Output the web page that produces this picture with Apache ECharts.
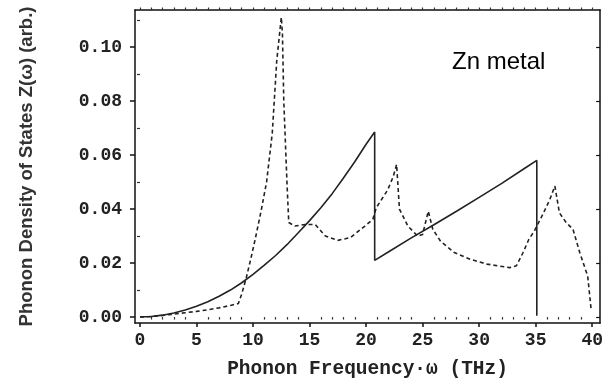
<!DOCTYPE html>
<html>
<head>
<meta charset="utf-8">
<script src="https://cdn.jsdelivr.net/npm/echarts@6/dist/echarts.min.js"></script>
<style>html,body{margin:0;padding:0;background:#fff}#c{width:606px;height:384px}</style>
</head>
<body>
<div id="c"></div>
<script>
// Debye-like model (solid)
var solidX = [0,1,2,3,4,5,6,7,8,9,10,11,12,13,14,15,16,17,18,19,20,20.76,20.76,22,24,26,28,30,32,34,35.1,35.1];
var solidY = [0,0.0002,0.0007,0.0015,0.0026,0.0040,0.0057,0.0077,0.0100,0.0127,0.0158,0.0192,0.0228,0.0268,0.0312,0.0357,0.0405,0.0457,0.0515,0.0575,0.0640,0.0685,0.0210,0.0242,0.0293,0.0342,0.0392,0.0443,0.0495,0.0550,0.0580,0.0005];
// calculated DOS (dashed)
var dashX = [0,1,2,3,4,5,6,7,8,8.7,9.0,9.4,9.8,10.2,10.7,11.2,11.7,12.1,12.5,12.6,12.72,13.0,13.16,13.7,14.6,15.5,16.4,17.5,18.6,19.9,20.6,20.9,21.9,22.4,22.7,22.95,23.7,24.56,25.0,25.5,25.9,26.6,27.8,29.2,30.7,32.7,33.3,33.9,34.4,34.9,35.7,36.25,36.7,37.1,37.7,38.3,38.9,39.6,39.9];
var dashY = [0,0.0002,0.0006,0.0011,0.0016,0.0021,0.0027,0.0034,0.0043,0.0050,0.0085,0.0145,0.0215,0.0290,0.0390,0.0500,0.0680,0.0950,0.1110,0.1050,0.0800,0.0500,0.0350,0.0337,0.0343,0.0343,0.0300,0.0284,0.0294,0.0337,0.0362,0.0405,0.0470,0.0520,0.0565,0.0400,0.0337,0.0300,0.0306,0.0392,0.0325,0.0280,0.0239,0.0214,0.0196,0.0183,0.0190,0.0240,0.0288,0.0320,0.0386,0.0435,0.0485,0.0386,0.0350,0.0325,0.0239,0.0152,0.0030];
var xTicks = [0,5,10,15,20,25,30,35,40];
var xMinorTicks = [1,2,3,4,6,7,8,9,11,12,13,14,16,17,18,19,21,22,23,24,26,27,28,29,31,32,33,34,36,37,38,39];
var yTicks = [0,0.02,0.04,0.06,0.08,0.10];
var yMinorTicks = [0.01,0.03,0.05,0.07,0.09,0.11];
var xTitle = 'Phonon Frequency·ω (THz)';
var yTitle = 'Phonon Density of States Z(ω) (arb.)';
var note = 'Zn metal';

var XMIN = -0.44, XMAX = 40.7, YMIN = -0.0022, YMAX = 0.1137;
function pairs(xs, ys){ return xs.map(function(x,i){ return [x, ys[i]]; }); }
var lblFont = {fontFamily:'Liberation Mono', fontWeight:'bold', fontSize:18, color:'#222'};

var chart = echarts.init(document.getElementById('c'), null, {renderer:'canvas'});
chart.setOption({
  animation:false,
  backgroundColor:'#fff',
  grid:{left:135, right:2, top:10, bottom:60},
  xAxis:[
    {type:'value', min:XMIN, max:XMAX, position:'bottom',
     axisLine:{onZero:false, lineStyle:{color:'#111', width:1.5}},
     axisTick:{customValues:xTicks, length:4, lineStyle:{color:'#111', width:1.5}},
     axisLabel:Object.assign({customValues:xTicks, margin:8}, lblFont),
     splitLine:{show:false},
     name:xTitle, nameLocation:'middle', nameGap:36,
     nameTextStyle:{fontFamily:'Liberation Mono', fontWeight:'bold', fontSize:19.5, color:'#222'}},
    {type:'value', min:XMIN, max:XMAX, position:'bottom',
     axisLine:{show:false}, axisTick:{customValues:xMinorTicks, length:2.5, lineStyle:{color:'#333', width:1.2}},
     axisLabel:{show:false}, splitLine:{show:false}},
    {type:'value', min:XMIN, max:XMAX, position:'top',
     axisLine:{onZero:false, lineStyle:{color:'#111', width:1.5}},
     axisTick:{customValues:xTicks.concat(xMinorTicks), length:2.5, lineStyle:{color:'#333', width:1.2}},
     axisLabel:{show:false}, splitLine:{show:false}}
  ],
  yAxis:[
    {type:'value', min:YMIN, max:YMAX, position:'left',
     axisLine:{onZero:false, lineStyle:{color:'#111', width:1.5}},
     axisTick:{customValues:yTicks, length:5, lineStyle:{color:'#111', width:1.5}},
     axisLabel:Object.assign({customValues:yTicks, margin:13, formatter:function(v){return v.toFixed(2);}}, lblFont),
     splitLine:{show:false},
     name:yTitle, nameLocation:'middle', nameGap:99, nameRotate:90,
     nameTextStyle:{fontFamily:'Liberation Sans', fontWeight:'bold', fontSize:18.5, color:'#333'}},
    {type:'value', min:YMIN, max:YMAX, position:'left',
     axisLine:{show:false}, axisTick:{customValues:yMinorTicks, length:3, lineStyle:{color:'#333', width:1.2}},
     axisLabel:{show:false}, splitLine:{show:false}},
    {type:'value', min:YMIN, max:YMAX, position:'right',
     axisLine:{onZero:false, lineStyle:{color:'#111', width:1.5}},
     axisTick:{inside:true, customValues:yTicks, length:4, lineStyle:{color:'#111', width:1.2}},
     axisLabel:{show:false}, splitLine:{show:false}}
  ],
  graphic:[{type:'text', left:452, top:50, style:{text:note, font:'24px "Liberation Sans"', fill:'#000'}}],
  series:[
    {type:'line', xAxisIndex:0, yAxisIndex:0, data:pairs(solidX, solidY), showSymbol:false, symbol:'none',
     lineStyle:{color:'#222', width:1.6, type:'solid'}},
    {type:'line', xAxisIndex:0, yAxisIndex:0, data:pairs(dashX, dashY), showSymbol:false, symbol:'none',
     lineStyle:{color:'#222', width:1.6, type:[4,3]}}
  ]
});
</script>
</body>
</html>
